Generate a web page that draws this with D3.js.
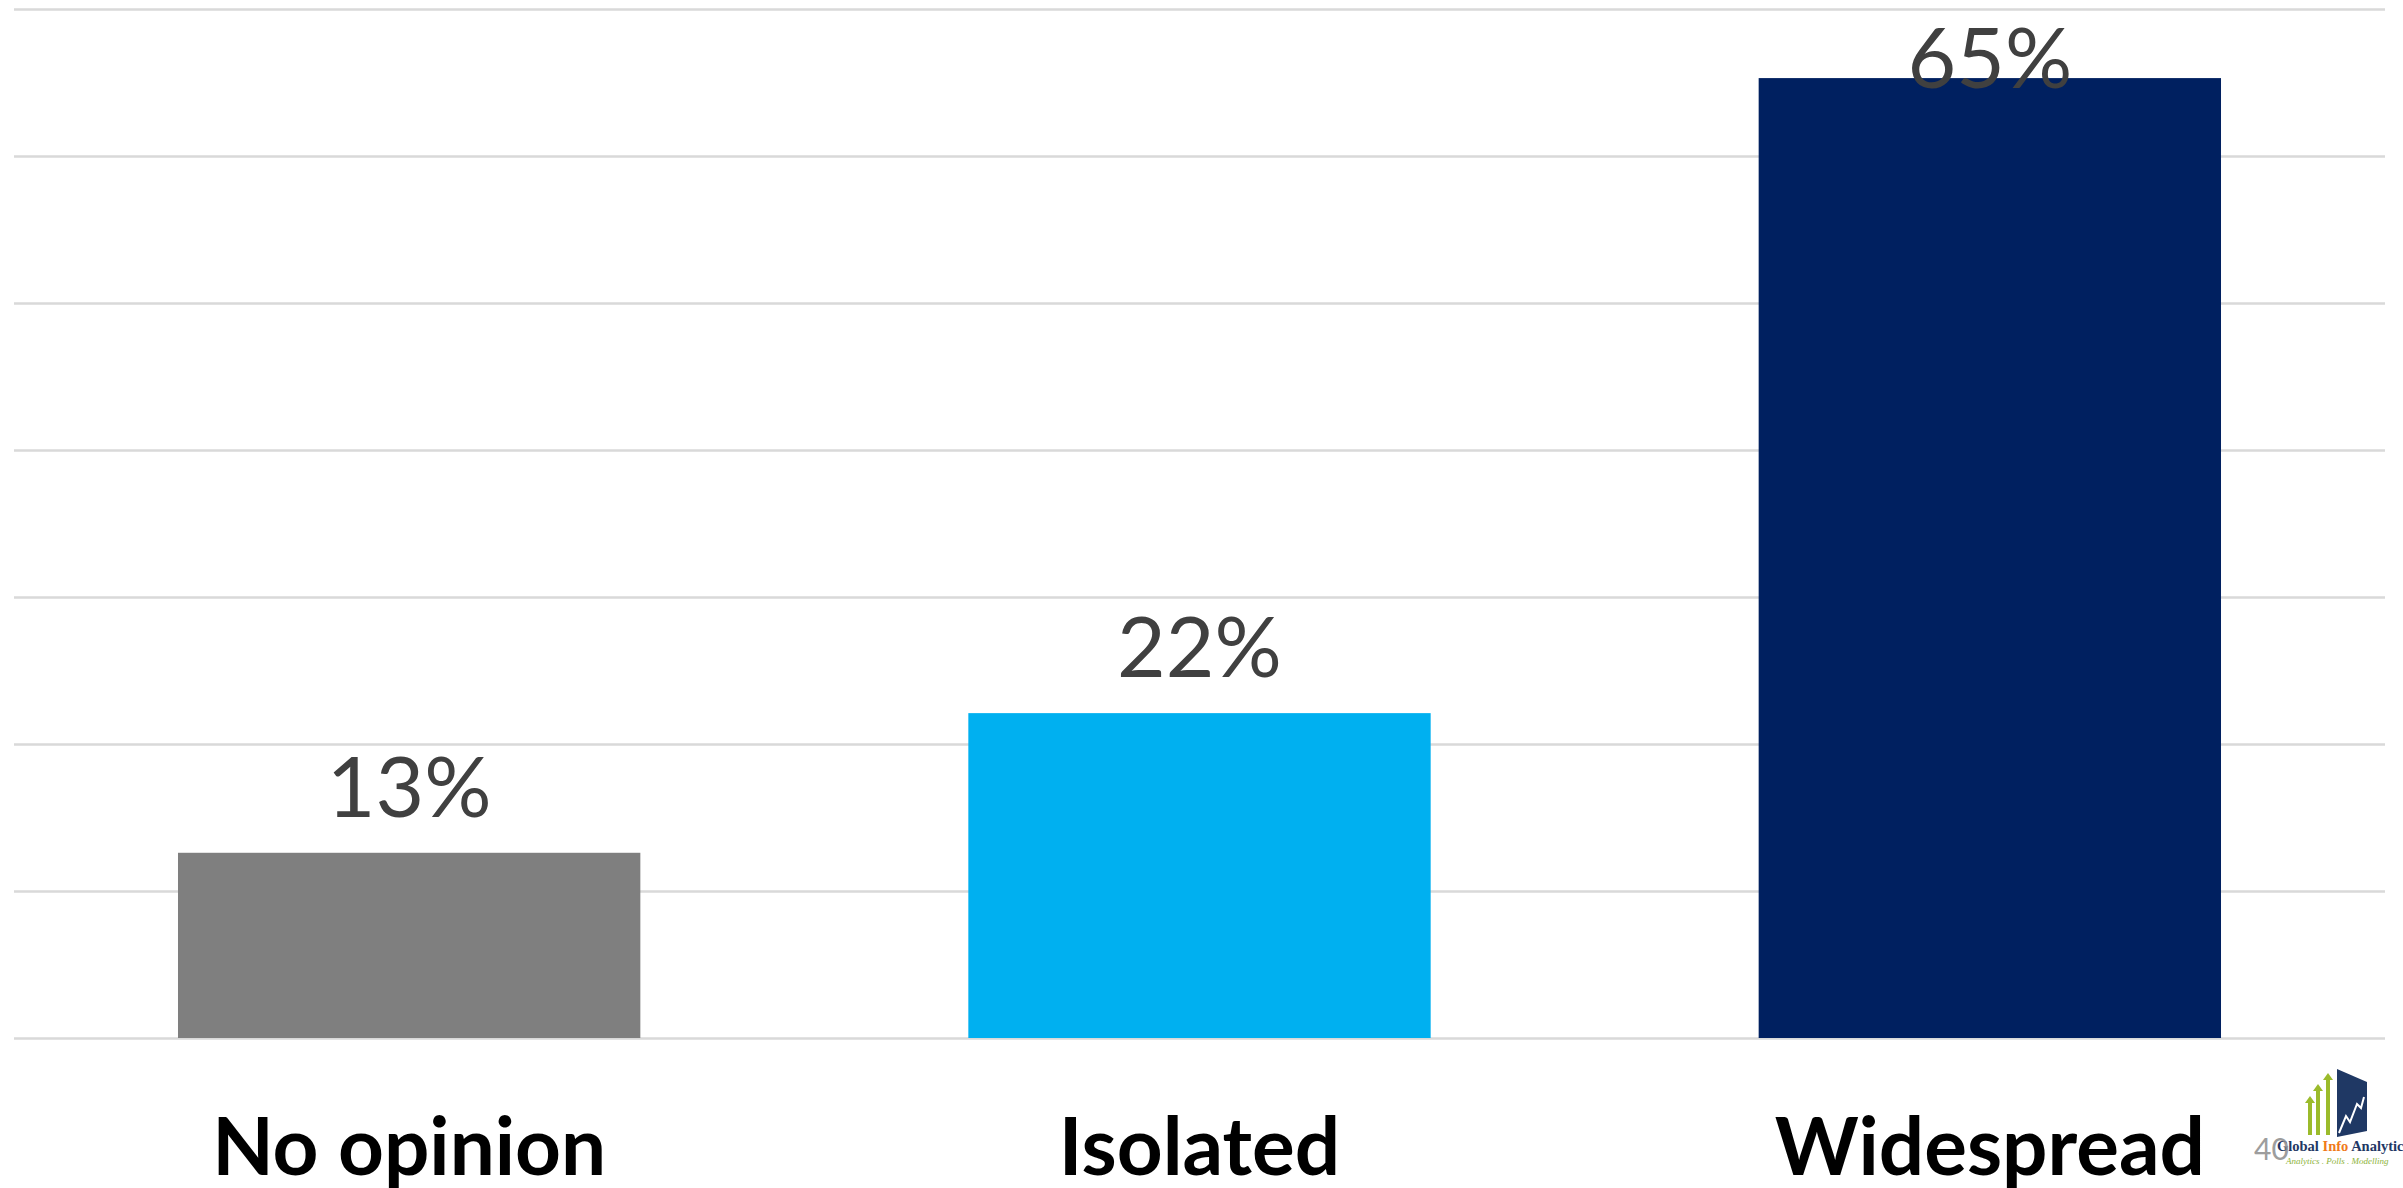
<!DOCTYPE html>
<html lang="en">
        <head>
                <meta charset="utf-8">
                <script src="https://d3js.org/d3.v7.min.js"></script>
                <style>
                        body { margin: 0; background: #ffffff; }
                </style>
        </head>

        <body>
        <script>
                // the data
                var categories = ["No opinion", "Isolated", "Widespread"];
                var values = [12.6, 22.1, 65.3];
                var barColours = ["#7f7f7f", "#00b0f0", "#002060"];
                var gridTicks = [0, 10, 20, 30, 40, 50, 60, 70];

                var width = 2403,
                    height = 1188;

                var margin = {top: 9, right: 18, bottom: 150, left: 14};

                // the main svg canvas
                var svg = d3.select("body").append("svg")
                            .attr("width", width)
                            .attr("height", height);

                var x = d3.scaleBand()
                          .domain(categories)
                          .range([margin.left, width - margin.right])
                          .paddingInner(0.415)
                          .paddingOuter(0.2075);

                var y = d3.scaleLinear()
                          .domain([0, 70])
                          .range([height - margin.bottom, margin.top]);

                // gridlines
                svg.append("g")
                   .attr("transform", "translate(" + margin.left + ",0)")
                   .call(d3.axisLeft(y)
                           .tickValues(gridTicks)
                           .tickSize(-(width - margin.left - margin.right))
                           .tickFormat(""))
                   .call(g => g.select(".domain").remove())
                   .call(g => g.selectAll(".tick line")
                               .attr("stroke", "#d9d9d9")
                               .attr("stroke-width", 2.5));

                // bars
                svg.selectAll(".bar")
                   .data(values)
                   .enter().append("rect")
                   .attr("class", "bar")
                   .attr("x", (d, i) => x(categories[i]))
                   .attr("width", x.bandwidth())
                   .attr("y", d => y(d))
                   .attr("height", d => y(0) - y(d))
                   .attr("fill", (d, i) => barColours[i]);

                // value labels (pushed down if they would leave the plot)
                var fmt = d3.format(".0f");
                svg.selectAll(".val")
                   .data(values)
                   .enter().append("text")
                   .attr("class", "val")
                   .attr("x", (d, i) => x(categories[i]) + x.bandwidth() / 2)
                   .attr("y", d => Math.max(y(d) - 36, margin.top + 79))
                   .attr("text-anchor", "middle")
                   .attr("font-family", "Lato, 'Open Sans', sans-serif")
                   .attr("font-size", 84)
                   .attr("fill", "#404040")
                   .text(d => fmt(d) + "%");

                // category labels
                svg.append("g")
                   .attr("transform", "translate(0," + y(0) + ")")
                   .call(d3.axisBottom(x).tickSize(0).tickPadding(80))
                   .call(g => g.select(".domain").remove())
                   .call(g => g.selectAll("text")
                               .attr("font-family", "Lato, 'Open Sans', sans-serif")
                               .attr("font-weight", "bold")
                               .attr("font-size", 80)
                               .attr("fill", "#000000"));

                // page number and logo
                var logo = svg.append("g");

                logo.append("path")
                    .attr("d", "M2337,1069 L2367,1082 L2367,1131 L2337,1137 Z")
                    .attr("fill", "#1f3864");
                logo.append("path")
                    .attr("d", "M2339,1133 L2346,1116 L2350,1122 L2357,1104 L2361,1108 L2364,1097")
                    .attr("fill", "none")
                    .attr("stroke", "#ffffff")
                    .attr("stroke-width", 2);

                var arrows = [[2310, 1096], [2318, 1084], [2328, 1073]];
                arrows.forEach(function(a) {
                        logo.append("rect")
                            .attr("x", a[0] - 2).attr("y", a[1] + 6)
                            .attr("width", 4).attr("height", 1135 - a[1] - 6)
                            .attr("fill", "#9bbb2b");
                        logo.append("path")
                            .attr("d", "M" + (a[0] - 5) + "," + (a[1] + 7) + " L" + a[0] + "," + a[1] +
                                       " L" + (a[0] + 5) + "," + (a[1] + 7) + " Z")
                            .attr("fill", "#9bbb2b");
                });

                var brand = logo.append("text")
                    .attr("x", 2277)
                    .attr("y", 1151)
                    .attr("font-family", "'Liberation Serif', serif")
                    .attr("font-weight", "bold")
                    .attr("font-size", 14.5)
                    .attr("fill", "#1f3864");
                brand.append("tspan").text("Global ");
                brand.append("tspan").attr("fill", "#f07a1a").text("Info");
                brand.append("tspan").text(" Analytics");

                logo.append("text")
                    .attr("x", 2286)
                    .attr("y", 1164)
                    .attr("font-family", "'Liberation Serif', serif")
                    .attr("font-style", "italic")
                    .attr("font-size", 9)
                    .attr("fill", "#8db33a")
                    .text("Analytics . Polls . Modelling");

                svg.append("text")
                   .attr("x", 2254)
                   .attr("y", 1160)
                   .attr("font-family", "Lato, 'Open Sans', sans-serif")
                   .attr("font-size", 30)
                   .attr("fill", "#8c8c8c")
                   .attr("opacity", 0.85)
                   .text("40");

        </script>
        </body>
</html>
